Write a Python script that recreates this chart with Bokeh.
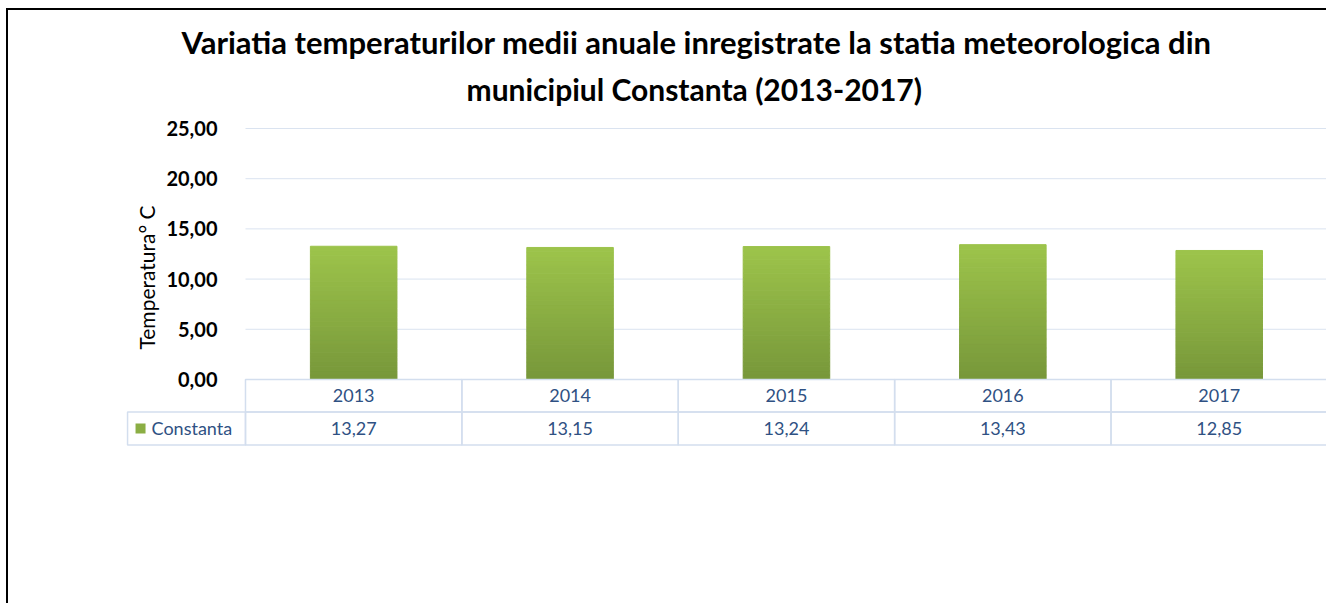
import numpy as np
from bokeh.plotting import figure
from bokeh.models import (LinearAxis, FixedTicker, CustomJSTickFormatter, Range1d, Title)
from bokeh.core.properties import value
from bokeh.embed import file_html
from bokeh.resources import INLINE

# ---------------- data ----------------
title_lines = [
    "Variatia  temperaturilor medii anuale inregistrate la statia meteorologica din",
    "municipiul Constanta (2013-2017)",
]
years = ["2013", "2014", "2015", "2016", "2017"]
temps = [13.27, 13.15, 13.24, 13.43, 12.85]
y_ticks = [0, 5, 10, 15, 20, 25]
series_name = "Constanta"
y_label = "Temperatura° C"

# ---------------- style ----------------
FONT = "Lato"
GREEN_TOP = np.array([0x9D, 0xC4, 0x4B])
GREEN_BOTTOM = np.array([0x77, 0x97, 0x3A])
GREEN = "#8BAE44"
GRID = "#DAE3F0"
TABLE_LINE = "#D3DEEE"
TEXT_BLUE = "#2F5183"

xs = np.arange(len(years), dtype=float)
temps_arr = np.array(temps)
value_labels = [f"{v:.2f}".replace(".", ",") for v in temps]

p = figure(
    width=1320, height=595,
    x_range=Range1d(-1.5952, 4.505), y_range=Range1d(-22.51, 27.19),
    output_backend="svg", toolbar_location=None,
    x_axis_location=None, y_axis_location=None,
    min_border_left=0, min_border_right=0, min_border_bottom=0, min_border_top=96,
)
p.grid.visible = False
p.outline_line_color = None
p.styles = {"margin-left": "6px", "margin-top": "8px",
            "border-top": "2px solid #000", "border-left": "2px solid #000"}

# titles (last added is outermost)
title_specs = list(zip(title_lines, [173, 458], ["31px", "30px"], [16, 0]))
for line, off, fs, so in reversed(title_specs):
    p.add_layout(Title(text=line, align="left", offset=off, text_font=FONT,
                       text_font_size=fs, text_font_style="bold",
                       text_color="#000000", standoff=so), "above")

# y axis placed at the left edge of the category area
yaxis = LinearAxis(
    fixed_location=-0.5,
    ticker=FixedTicker(ticks=y_ticks),
    formatter=CustomJSTickFormatter(code="return tick.toFixed(2).replace('.', ',')"),
    axis_label=y_label,
    bounds=(min(y_ticks) - 4.7, max(y_ticks)),
)
yaxis.axis_line_color = None
yaxis.major_tick_line_color = None
yaxis.minor_tick_line_color = None
yaxis.major_label_text_font = FONT
yaxis.major_label_text_font_size = "20px"
yaxis.major_label_text_font_style = "bold"
yaxis.major_label_text_color = "#000000"
yaxis.major_label_standoff = 22
yaxis.axis_label_text_font = FONT
yaxis.axis_label_text_font_size = "21px"
yaxis.axis_label_text_font_style = "normal"
yaxis.axis_label_text_color = "#000000"
yaxis.axis_label_standoff = 4
p.add_layout(yaxis, "left")

# horizontal gridlines over the category area
p.segment(x0=xs[0] - 0.5, x1=xs[-1] + 0.5, y0=y_ticks, y1=y_ticks,
          line_color=GRID, line_width=1)

# bars: vertical gradient built from stacked bands of each bar
N = 30
for k in range(N):
    f0, f1 = k / N, (k + 1) / N
    t = (k + 0.5) / N
    rgb = (GREEN_BOTTOM + (GREEN_TOP - GREEN_BOTTOM) * t).round().astype(int)
    col = "#%02x%02x%02x" % tuple(rgb)
    p.vbar(x=xs, bottom=temps_arr * f0, top=temps_arr * f1, width=0.4,
           fill_color=col, line_color=col, line_width=1)

# data table under the chart
r1, r2 = 3.24, 6.52
p.quad(left=xs - 0.5, right=xs + 0.5, top=0, bottom=-r1,
       fill_color=None, line_color=TABLE_LINE, line_width=1.5)
p.quad(left=xs - 0.5, right=xs + 0.5, top=-r1, bottom=-r2,
       fill_color=None, line_color=TABLE_LINE, line_width=1.5)
p.quad(left=[-1.045], right=[-0.5], top=[-r1], bottom=[-r2],
       fill_color=None, line_color=TABLE_LINE, line_width=1.5)

p.text(x=xs, y=-r1 / 2, text=years, text_align="center", text_baseline="middle",
       text_font=value(FONT), text_font_size="18px", text_color=TEXT_BLUE)
p.text(x=xs, y=-(r1 + r2) / 2, text=value_labels, text_align="center", text_baseline="middle",
       text_font=value(FONT), text_font_size="18px", text_color=TEXT_BLUE)
p.scatter(x=[-0.985], y=[-(r1 + r2) / 2], marker="square", size=10,
          fill_color=GREEN, line_color=None)
p.text(x=[-0.934], y=[-(r1 + r2) / 2], text=[series_name], text_align="left",
       text_baseline="middle", text_font=value(FONT), text_font_size="18px",
       text_color=TEXT_BLUE)

open("out.html", "w").write(file_html(p, INLINE))
